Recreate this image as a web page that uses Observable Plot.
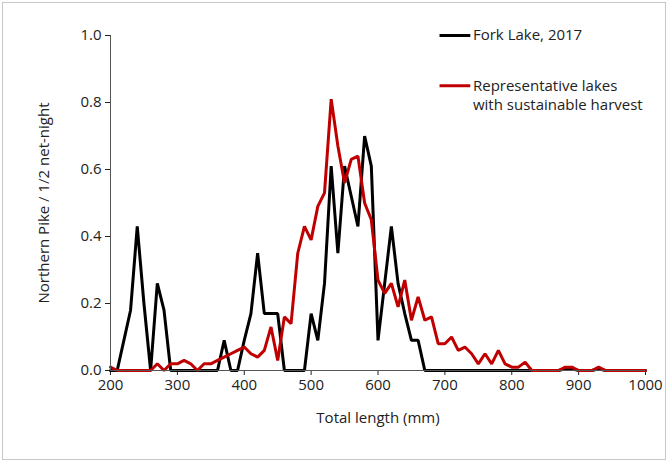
<!DOCTYPE html>
<html>
<head>
<meta charset="utf-8">
<script src="https://cdn.jsdelivr.net/npm/d3@7"></script>
<script src="https://cdn.jsdelivr.net/npm/@observablehq/plot@0.6"></script>
<style>
  body { margin: 0; background: #fff; }
  #chart { position: absolute; left: 2px; top: 2px; }
  #chart svg { border: 1px solid #c8c8c8; }
</style>
</head>
<body>
<div id="chart"></div>
<script>
// Total length bins (mm), 10 mm steps
const lengths = d3.range(200, 1001, 10)

// Fork Lake, 2017 (200..1000)
const forkLake = [
  0, 0, 0.09, 0.18, 0.43, 0.2, 0, 0.26, 0.18, 0,
  0, 0, 0, 0, 0, 0, 0, 0.09, 0, 0,
  0.09, 0.17, 0.35, 0.17, 0.17, 0.17, 0, 0, 0, 0,
  0.17, 0.09, 0.26, 0.61, 0.35, 0.61, 0.52, 0.43, 0.70, 0.61,
  0.09, 0.26, 0.43, 0.26, 0.17, 0.09, 0.09, 0, 0, 0,
  0, 0, 0, 0, 0, 0, 0, 0, 0, 0,
  0, 0, 0, 0, 0, 0, 0, 0, 0.005, 0.005,
  0, 0, 0, 0.005, 0, 0, 0, 0, 0, 0,
  0
]

// Representative lakes with sustainable harvest
const representative = [
  0.01, 0, 0, 0, 0, 0, 0, 0.02, 0, 0.02,
  0.02, 0.03, 0.02, 0, 0.02, 0.02, 0.03, 0.04, 0.05, 0.06,
  0.07, 0.05, 0.04, 0.06, 0.13, 0.03, 0.16, 0.14, 0.35, 0.43,
  0.39, 0.49, 0.53, 0.81, 0.67, 0.56, 0.63, 0.64, 0.50, 0.45,
  0.27, 0.23, 0.26, 0.19, 0.27, 0.15, 0.22, 0.15, 0.16, 0.08,
  0.08, 0.10, 0.06, 0.07, 0.05, 0.02, 0.05, 0.02, 0.06, 0.02,
  0.01, 0.01, 0.025, 0, 0, 0, 0, 0, 0.01, 0.01,
  0, 0, 0, 0.01, 0, 0, 0, 0, 0, 0,
  0
]

const seriesNames = ['Fork Lake, 2017', 'Representative lakes\nwith sustainable harvest']
const seriesColors = ['#000000', '#c00000']

const rows = [
  ...lengths.map((x, i) => ({x, y: forkLake[i], s: seriesNames[0]})),
  ...lengths.map((x, i) => ({x, y: representative[i], s: seriesNames[1]}))
]

// legend anchors in data units
const legendY = [1.0, 0.85]
const legendX0 = 692, legendX1 = 738

let chart = Plot.plot({
  width: 662,
  height: 456,
  marginLeft: 107,
  marginRight: 20,
  marginTop: 32,
  marginBottom: 89,
  style: {fontFamily: 'Open Sans', fontSize: '14px', color: '#222', background: '#fff'},
  x: {domain: [200, 1000]},
  y: {domain: [0, 1]},
  color: {domain: seriesNames, range: seriesColors},
  marks: [
    Plot.axisX({ticks: d3.range(200, 1001, 100), tickFormat: d3.format('d'), tickSize: 5, fontSize: 15,
      label: 'Total length (mm)', labelAnchor: 'center', labelArrow: 'none', labelOffset: 52}),
    Plot.axisY({ticks: d3.range(0, 1.01, 0.2), tickFormat: d3.format('.1f'), tickSize: 5, fontSize: 15,
      label: 'Northern Pike / 1/2 net-night', labelAnchor: 'center', labelArrow: 'none', labelOffset: 72}),
    Plot.line(rows, {x: 'x', y: 'y', z: 's', stroke: 's', strokeWidth: 3, strokeLinejoin: 'miter'}),
    Plot.ruleY([0], {stroke: '#555'}),
    Plot.ruleX([200], {stroke: '#555'}),
    Plot.link(seriesNames, {x1: legendX0, x2: legendX1, y1: (d, i) => legendY[i], y2: (d, i) => legendY[i],
      stroke: (d, i) => seriesColors[i], strokeWidth: 3}),
    Plot.text(seriesNames, {x: legendX1 + 4, y: (d, i) => legendY[i], text: d => d, textAnchor: 'start',
      lineAnchor: 'top', dy: -9, fontSize: 15, lineHeight: 1.3, fill: '#222'})
  ]
})
d3.select('#chart').append(() => chart)
</script>
</body>
</html>
